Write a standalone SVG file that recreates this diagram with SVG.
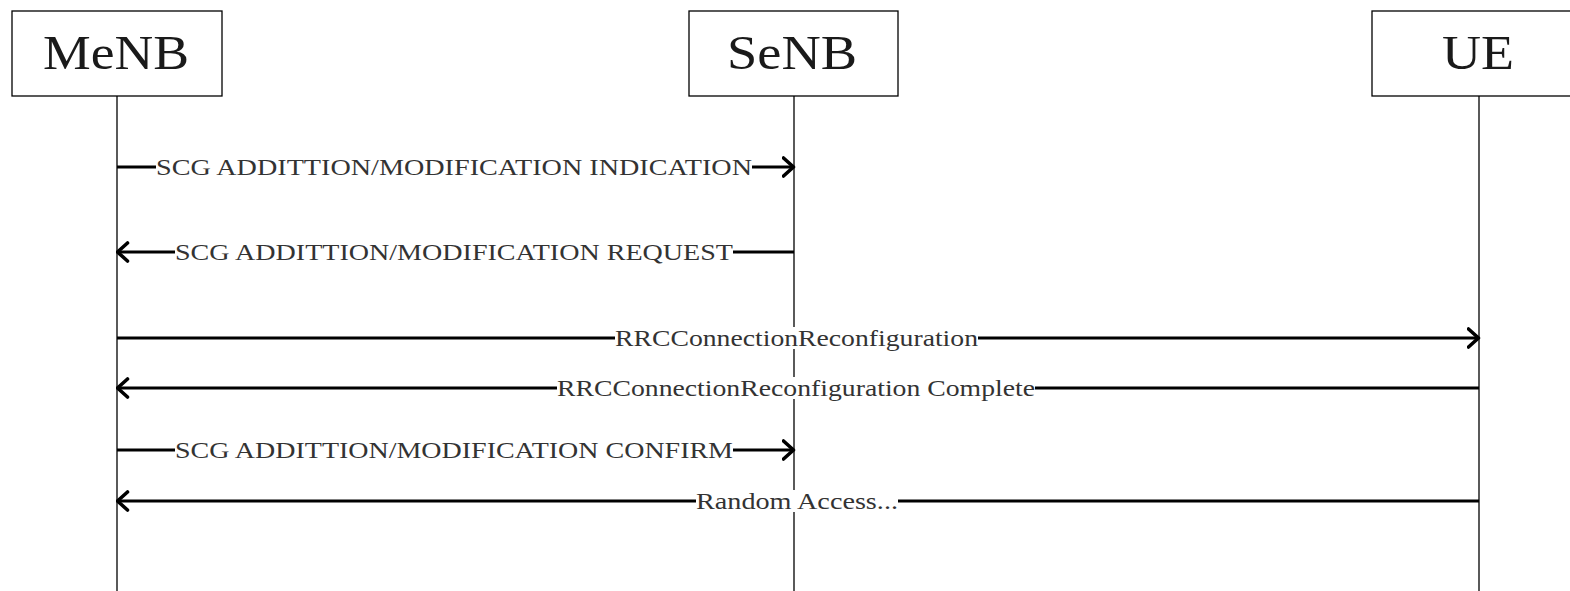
<svg xmlns="http://www.w3.org/2000/svg" width="1570" height="591" viewBox="0 0 1570 591">
  <style>
    .box { fill: #fff; stroke: #000; stroke-width: 1.3; }
    .life { stroke: #000; stroke-width: 1.3; fill: none; }
    .msg { stroke: #000; stroke-width: 3.2; fill: none; }
    .bg { fill: #fff; }
    .head { font-family: "Liberation Serif", "DejaVu Serif", serif; font-size: 49px; fill: #1a1a1a; text-anchor: middle; }
    .lbl { font-family: "Liberation Serif", "DejaVu Serif", serif; font-size: 24px; fill: #333; }
  </style>
  <defs>
    <marker id="arr" viewBox="0 0 14 22" refX="12.5" refY="11" markerWidth="14" markerHeight="22" markerUnits="userSpaceOnUse" orient="auto">
      <path d="M2,2 L12,11 L2,20" fill="none" stroke="#000" stroke-width="3.6" stroke-linecap="round" stroke-linejoin="round"/>
    </marker>
  </defs>
  <rect width="1570" height="591" fill="#fff"/>

  <!-- lifelines -->
  <g id="lifelines">
    <line class="life" x1="117" y1="96" x2="117" y2="591"/>
    <line class="life" x1="794" y1="96" x2="794" y2="591"/>
    <line class="life" x1="1479" y1="96" x2="1479" y2="591"/>
  </g>

  <!-- participants -->
  <g id="menb">
    <rect class="box" x="12" y="11" width="210" height="85"/>
    <text class="head" x="116" y="69" textLength="146" lengthAdjust="spacingAndGlyphs">MeNB</text>
  </g>
  <g id="senb">
    <rect class="box" x="689" y="11" width="209" height="85"/>
    <text class="head" x="792" y="69" textLength="130" lengthAdjust="spacingAndGlyphs">SeNB</text>
  </g>
  <g id="ue">
    <rect class="box" x="1372" y="11" width="210" height="85"/>
    <text class="head" x="1478" y="69" textLength="72" lengthAdjust="spacingAndGlyphs">UE</text>
  </g>

  <!-- messages: line segments either side of a label with a white backing -->
  <g id="connectors">
    <path class="msg" d="M117,167 H156"/>
    <path class="msg" d="M752,167 H794" marker-end="url(#arr)"/>
    <text class="lbl" x="156" y="175" textLength="596" lengthAdjust="spacingAndGlyphs">SCG ADDITTION/MODIFICATION INDICATION</text>

    <path class="msg" d="M794,252 H733"/>
    <path class="msg" d="M175,252 H117" marker-end="url(#arr)"/>
    <text class="lbl" x="175" y="260" textLength="558" lengthAdjust="spacingAndGlyphs">SCG ADDITTION/MODIFICATION REQUEST</text>

    <path class="msg" d="M117,338 H615"/>
    <path class="msg" d="M978,338 H1479" marker-end="url(#arr)"/>
    <rect class="bg" x="615" y="327" width="363" height="22"/>
    <text class="lbl" x="615" y="346" textLength="363" lengthAdjust="spacingAndGlyphs">RRCConnectionReconfiguration</text>

    <path class="msg" d="M1479,388 H1035"/>
    <path class="msg" d="M557,388 H117" marker-end="url(#arr)"/>
    <rect class="bg" x="557" y="377" width="478" height="22"/>
    <text class="lbl" x="557" y="396" textLength="478" lengthAdjust="spacingAndGlyphs">RRCConnectionReconfiguration Complete</text>

    <path class="msg" d="M117,450 H175"/>
    <path class="msg" d="M733,450 H794" marker-end="url(#arr)"/>
    <text class="lbl" x="175" y="458" textLength="558" lengthAdjust="spacingAndGlyphs">SCG ADDITTION/MODIFICATION CONFIRM</text>

    <path class="msg" d="M1479,501 H898"/>
    <path class="msg" d="M696,501 H117" marker-end="url(#arr)"/>
    <rect class="bg" x="696" y="490" width="202" height="22"/>
    <text class="lbl" x="696" y="509" textLength="202" lengthAdjust="spacingAndGlyphs">Random Access...</text>
  </g>
</svg>
